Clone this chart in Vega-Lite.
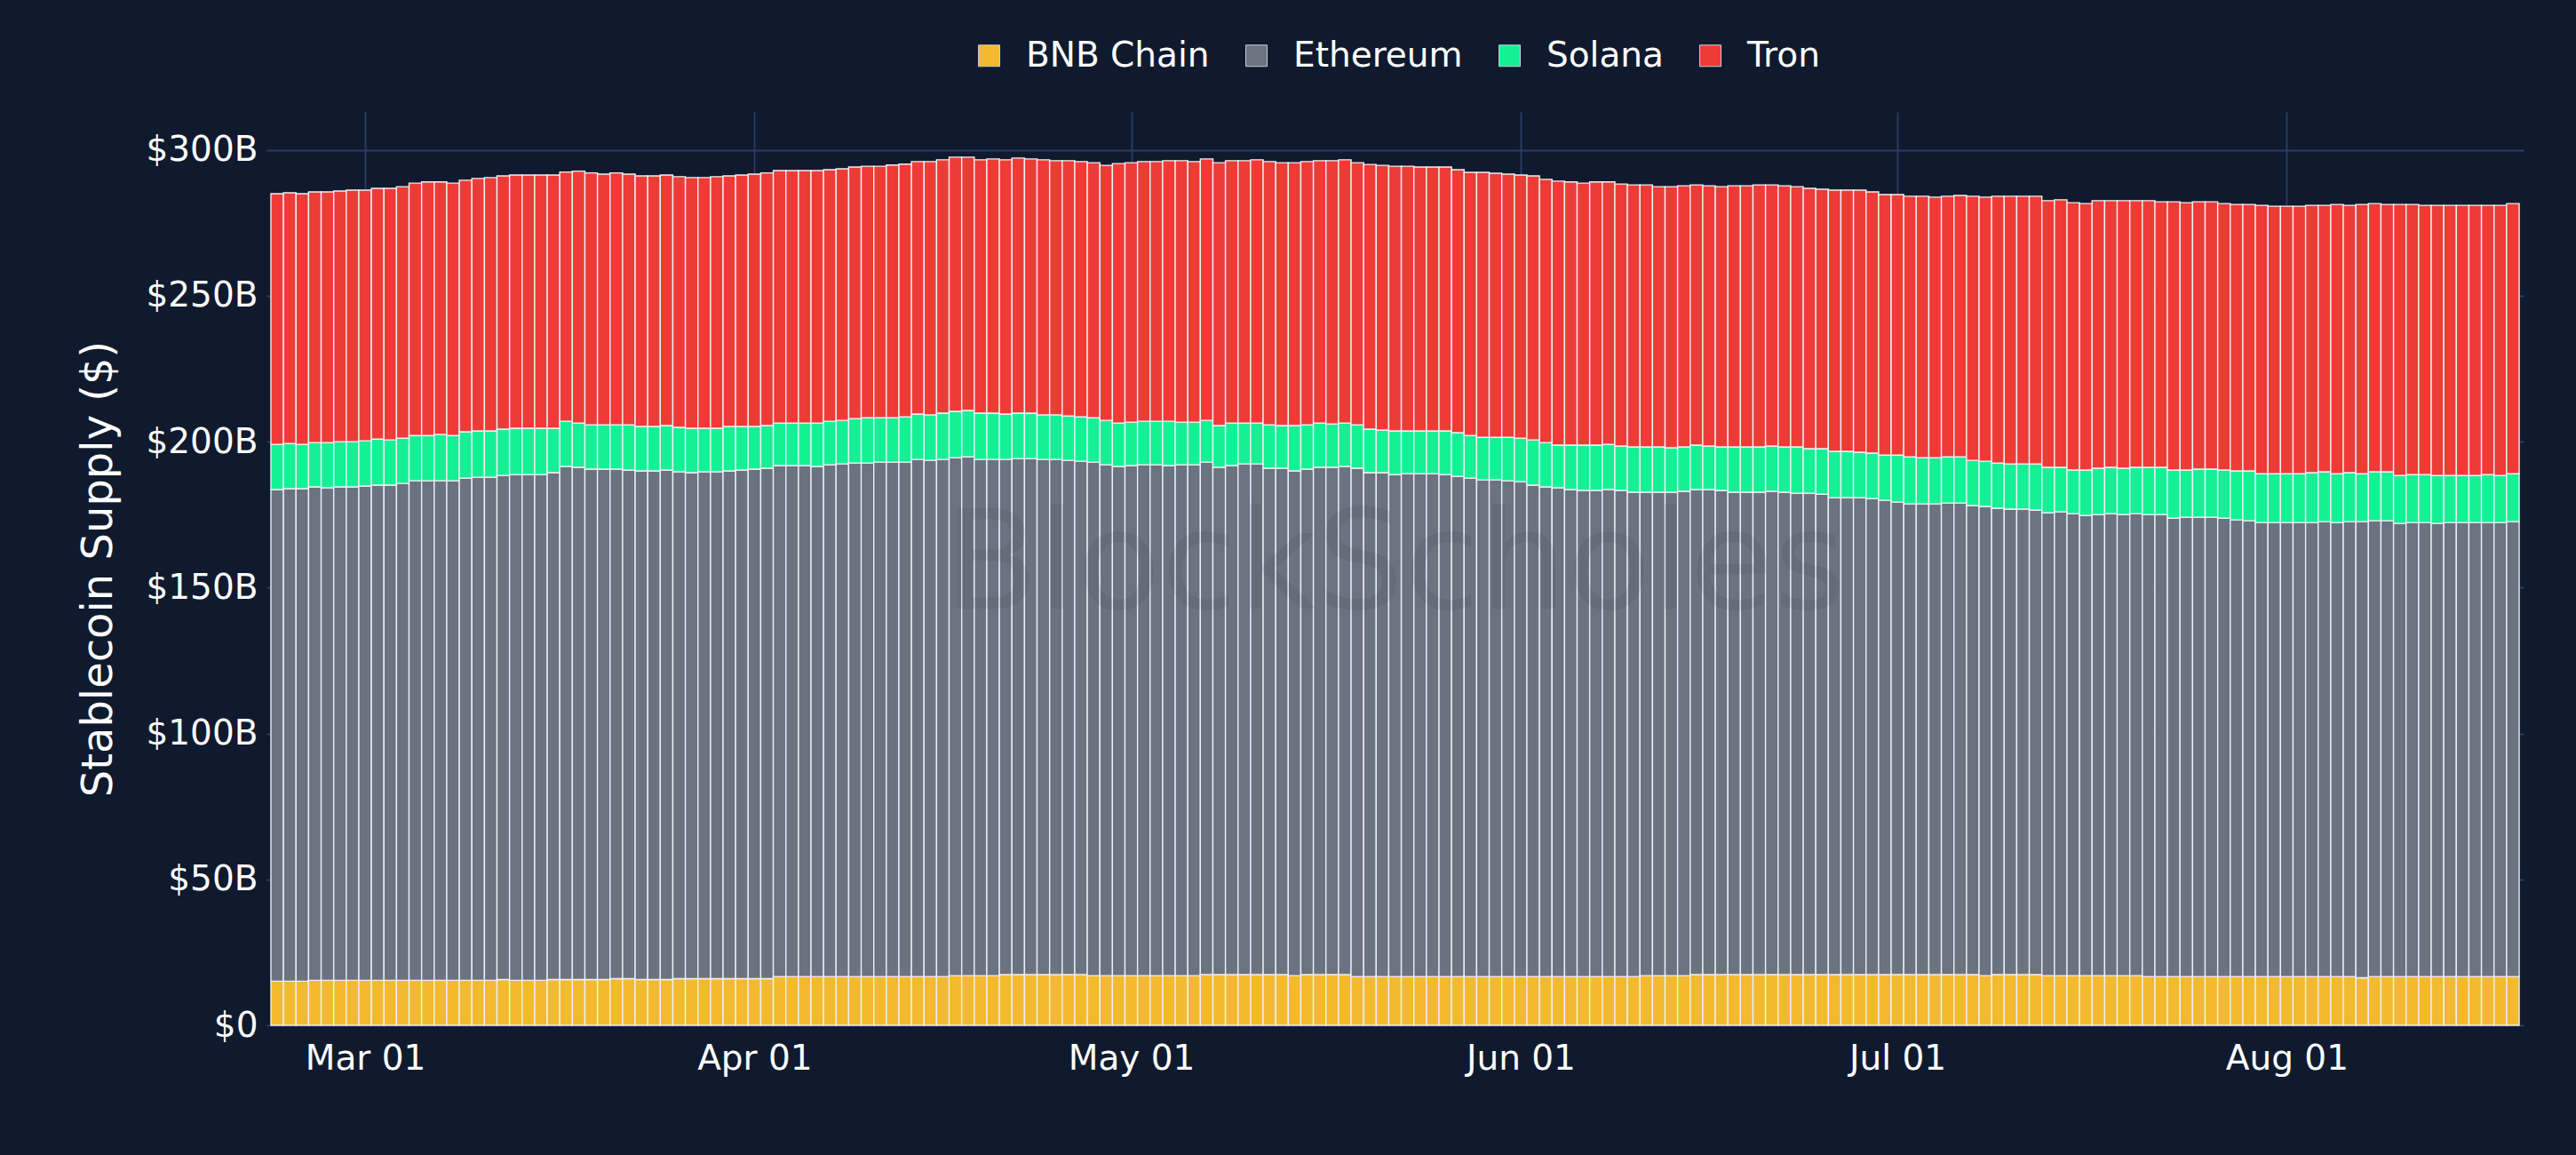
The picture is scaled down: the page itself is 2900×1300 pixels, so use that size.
{
  "$schema": "https://vega.github.io/schema/vega-lite/v6.json",
  "width": 2541,
  "height": 1028,
  "autosize": {"type": "none"},
  "padding": {"left": 300, "top": 126, "right": 59, "bottom": 146},
  "background": "#0f1a2e",
  "config": {"view": {"stroke": null}, "font": "DejaVu Sans"},
  "layer": [
    {
      "data": {"values": [
{"date":"2025-02-22","BNB Chain":15.1,"Ethereum":168.5,"Solana":15.5,"Tron":85.9},
{"date":"2025-02-23","BNB Chain":15.1,"Ethereum":168.8,"Solana":15.5,"Tron":85.9},
{"date":"2025-02-24","BNB Chain":15.1,"Ethereum":168.8,"Solana":15.2,"Tron":85.9},
{"date":"2025-02-25","BNB Chain":15.4,"Ethereum":169.1,"Solana":15.2,"Tron":85.9},
{"date":"2025-02-26","BNB Chain":15.4,"Ethereum":168.8,"Solana":15.5,"Tron":85.9},
{"date":"2025-02-27","BNB Chain":15.4,"Ethereum":169.1,"Solana":15.5,"Tron":85.9},
{"date":"2025-02-28","BNB Chain":15.4,"Ethereum":169.1,"Solana":15.5,"Tron":86.2},
{"date":"2025-03-01","BNB Chain":15.4,"Ethereum":169.4,"Solana":15.5,"Tron":85.9},
{"date":"2025-03-02","BNB Chain":15.4,"Ethereum":169.7,"Solana":15.8,"Tron":85.9},
{"date":"2025-03-03","BNB Chain":15.4,"Ethereum":169.7,"Solana":15.5,"Tron":86.2},
{"date":"2025-03-04","BNB Chain":15.4,"Ethereum":170.3,"Solana":15.5,"Tron":86.2},
{"date":"2025-03-05","BNB Chain":15.4,"Ethereum":171.2,"Solana":15.5,"Tron":86.5},
{"date":"2025-03-06","BNB Chain":15.4,"Ethereum":171.2,"Solana":15.5,"Tron":86.9},
{"date":"2025-03-07","BNB Chain":15.4,"Ethereum":171.2,"Solana":15.9,"Tron":86.5},
{"date":"2025-03-08","BNB Chain":15.4,"Ethereum":171.2,"Solana":15.5,"Tron":86.5},
{"date":"2025-03-09","BNB Chain":15.4,"Ethereum":172.1,"Solana":15.9,"Tron":86.2},
{"date":"2025-03-10","BNB Chain":15.4,"Ethereum":172.4,"Solana":15.9,"Tron":86.5},
{"date":"2025-03-11","BNB Chain":15.4,"Ethereum":172.4,"Solana":15.9,"Tron":86.8},
{"date":"2025-03-12","BNB Chain":15.7,"Ethereum":172.7,"Solana":15.9,"Tron":86.8},
{"date":"2025-03-13","BNB Chain":15.4,"Ethereum":173.3,"Solana":15.9,"Tron":86.8},
{"date":"2025-03-14","BNB Chain":15.4,"Ethereum":173.3,"Solana":15.9,"Tron":86.8},
{"date":"2025-03-15","BNB Chain":15.4,"Ethereum":173.3,"Solana":15.9,"Tron":86.8},
{"date":"2025-03-16","BNB Chain":15.7,"Ethereum":173.7,"Solana":15.2,"Tron":86.8},
{"date":"2025-03-17","BNB Chain":15.7,"Ethereum":175.8,"Solana":15.5,"Tron":85.4},
{"date":"2025-03-18","BNB Chain":15.7,"Ethereum":175.5,"Solana":15.2,"Tron":86.3},
{"date":"2025-03-19","BNB Chain":15.7,"Ethereum":174.9,"Solana":15.2,"Tron":86.3},
{"date":"2025-03-20","BNB Chain":15.7,"Ethereum":174.9,"Solana":15.2,"Tron":85.9},
{"date":"2025-03-21","BNB Chain":16.0,"Ethereum":174.6,"Solana":15.2,"Tron":86.3},
{"date":"2025-03-22","BNB Chain":16.0,"Ethereum":174.3,"Solana":15.5,"Tron":85.9},
{"date":"2025-03-23","BNB Chain":15.7,"Ethereum":174.3,"Solana":15.2,"Tron":85.9},
{"date":"2025-03-24","BNB Chain":15.7,"Ethereum":174.3,"Solana":15.2,"Tron":85.9},
{"date":"2025-03-25","BNB Chain":15.7,"Ethereum":174.6,"Solana":15.2,"Tron":85.9},
{"date":"2025-03-26","BNB Chain":16.0,"Ethereum":173.7,"Solana":15.2,"Tron":85.9},
{"date":"2025-03-27","BNB Chain":16.0,"Ethereum":173.4,"Solana":15.2,"Tron":85.9},
{"date":"2025-03-28","BNB Chain":16.0,"Ethereum":173.7,"Solana":14.9,"Tron":85.9},
{"date":"2025-03-29","BNB Chain":16.0,"Ethereum":173.7,"Solana":14.9,"Tron":86.2},
{"date":"2025-03-30","BNB Chain":16.0,"Ethereum":174.0,"Solana":15.2,"Tron":85.9},
{"date":"2025-03-31","BNB Chain":16.0,"Ethereum":174.3,"Solana":14.9,"Tron":86.2},
{"date":"2025-04-01","BNB Chain":16.0,"Ethereum":174.6,"Solana":14.6,"Tron":86.5},
{"date":"2025-04-02","BNB Chain":16.0,"Ethereum":174.9,"Solana":14.6,"Tron":86.6},
{"date":"2025-04-03","BNB Chain":16.7,"Ethereum":175.1,"Solana":14.6,"Tron":86.5},
{"date":"2025-04-04","BNB Chain":16.7,"Ethereum":175.1,"Solana":14.6,"Tron":86.5},
{"date":"2025-04-05","BNB Chain":16.7,"Ethereum":175.1,"Solana":14.6,"Tron":86.5},
{"date":"2025-04-06","BNB Chain":16.7,"Ethereum":174.8,"Solana":14.9,"Tron":86.5},
{"date":"2025-04-07","BNB Chain":16.7,"Ethereum":175.4,"Solana":14.9,"Tron":86.2},
{"date":"2025-04-08","BNB Chain":16.7,"Ethereum":175.7,"Solana":14.9,"Tron":86.2},
{"date":"2025-04-09","BNB Chain":16.7,"Ethereum":176.0,"Solana":15.2,"Tron":86.2},
{"date":"2025-04-10","BNB Chain":16.7,"Ethereum":176.0,"Solana":15.5,"Tron":86.2},
{"date":"2025-04-11","BNB Chain":16.7,"Ethereum":176.3,"Solana":15.2,"Tron":86.2},
{"date":"2025-04-12","BNB Chain":16.7,"Ethereum":176.3,"Solana":15.2,"Tron":86.6},
{"date":"2025-04-13","BNB Chain":16.7,"Ethereum":176.3,"Solana":15.5,"Tron":86.6},
{"date":"2025-04-14","BNB Chain":16.7,"Ethereum":177.2,"Solana":15.6,"Tron":86.5},
{"date":"2025-04-15","BNB Chain":16.7,"Ethereum":176.9,"Solana":15.6,"Tron":86.8},
{"date":"2025-04-16","BNB Chain":16.7,"Ethereum":177.2,"Solana":15.9,"Tron":86.8},
{"date":"2025-04-17","BNB Chain":17.0,"Ethereum":177.5,"Solana":15.9,"Tron":87.1},
{"date":"2025-04-18","BNB Chain":17.0,"Ethereum":177.8,"Solana":15.9,"Tron":86.8},
{"date":"2025-04-19","BNB Chain":17.0,"Ethereum":176.9,"Solana":15.9,"Tron":86.8},
{"date":"2025-04-20","BNB Chain":17.0,"Ethereum":176.9,"Solana":15.9,"Tron":87.1},
{"date":"2025-04-21","BNB Chain":17.4,"Ethereum":176.5,"Solana":15.6,"Tron":87.1},
{"date":"2025-04-22","BNB Chain":17.4,"Ethereum":176.8,"Solana":15.6,"Tron":87.4},
{"date":"2025-04-23","BNB Chain":17.4,"Ethereum":176.8,"Solana":15.6,"Tron":87.1},
{"date":"2025-04-24","BNB Chain":17.4,"Ethereum":176.5,"Solana":15.3,"Tron":87.4},
{"date":"2025-04-25","BNB Chain":17.4,"Ethereum":176.5,"Solana":15.3,"Tron":87.1},
{"date":"2025-04-26","BNB Chain":17.4,"Ethereum":176.2,"Solana":15.2,"Tron":87.5},
{"date":"2025-04-27","BNB Chain":17.4,"Ethereum":175.9,"Solana":15.2,"Tron":87.5},
{"date":"2025-04-28","BNB Chain":17.0,"Ethereum":176.0,"Solana":15.2,"Tron":87.4},
{"date":"2025-04-29","BNB Chain":17.0,"Ethereum":175.1,"Solana":15.2,"Tron":87.4},
{"date":"2025-04-30","BNB Chain":17.0,"Ethereum":174.5,"Solana":14.9,"Tron":88.9},
{"date":"2025-05-01","BNB Chain":17.0,"Ethereum":174.8,"Solana":14.9,"Tron":88.9},
{"date":"2025-05-02","BNB Chain":17.0,"Ethereum":175.1,"Solana":14.9,"Tron":89.0},
{"date":"2025-05-03","BNB Chain":17.0,"Ethereum":175.1,"Solana":14.9,"Tron":89.0},
{"date":"2025-05-04","BNB Chain":17.0,"Ethereum":174.8,"Solana":15.2,"Tron":89.3},
{"date":"2025-05-05","BNB Chain":17.0,"Ethereum":175.1,"Solana":14.6,"Tron":89.6},
{"date":"2025-05-06","BNB Chain":17.0,"Ethereum":175.1,"Solana":14.6,"Tron":89.3},
{"date":"2025-05-07","BNB Chain":17.4,"Ethereum":175.6,"Solana":14.3,"Tron":89.6},
{"date":"2025-05-08","BNB Chain":17.4,"Ethereum":173.8,"Solana":14.3,"Tron":90.1},
{"date":"2025-05-09","BNB Chain":17.4,"Ethereum":174.4,"Solana":14.6,"Tron":89.9},
{"date":"2025-05-10","BNB Chain":17.4,"Ethereum":175.0,"Solana":14.0,"Tron":89.9},
{"date":"2025-05-11","BNB Chain":17.4,"Ethereum":175.0,"Solana":14.0,"Tron":90.2},
{"date":"2025-05-12","BNB Chain":17.4,"Ethereum":173.5,"Solana":14.9,"Tron":90.2},
{"date":"2025-05-13","BNB Chain":17.4,"Ethereum":173.5,"Solana":14.6,"Tron":90.1},
{"date":"2025-05-14","BNB Chain":17.0,"Ethereum":173.0,"Solana":15.5,"Tron":90.1},
{"date":"2025-05-15","BNB Chain":17.4,"Ethereum":173.2,"Solana":15.2,"Tron":90.2},
{"date":"2025-05-16","BNB Chain":17.4,"Ethereum":173.8,"Solana":15.2,"Tron":89.9},
{"date":"2025-05-17","BNB Chain":17.4,"Ethereum":173.8,"Solana":14.9,"Tron":90.2},
{"date":"2025-05-18","BNB Chain":17.4,"Ethereum":174.1,"Solana":14.9,"Tron":90.2},
{"date":"2025-05-19","BNB Chain":16.7,"Ethereum":174.2,"Solana":14.9,"Tron":89.8},
{"date":"2025-05-20","BNB Chain":16.7,"Ethereum":172.7,"Solana":14.9,"Tron":90.7},
{"date":"2025-05-21","BNB Chain":16.7,"Ethereum":172.7,"Solana":14.6,"Tron":90.7},
{"date":"2025-05-22","BNB Chain":16.7,"Ethereum":172.0,"Solana":15.0,"Tron":90.7},
{"date":"2025-05-23","BNB Chain":16.7,"Ethereum":172.3,"Solana":14.7,"Tron":90.7},
{"date":"2025-05-24","BNB Chain":16.7,"Ethereum":172.3,"Solana":14.7,"Tron":90.4},
{"date":"2025-05-25","BNB Chain":16.7,"Ethereum":172.3,"Solana":14.7,"Tron":90.4},
{"date":"2025-05-26","BNB Chain":16.7,"Ethereum":172.0,"Solana":15.0,"Tron":90.4},
{"date":"2025-05-27","BNB Chain":16.7,"Ethereum":171.4,"Solana":15.0,"Tron":90.1},
{"date":"2025-05-28","BNB Chain":16.7,"Ethereum":170.8,"Solana":14.6,"Tron":90.2},
{"date":"2025-05-29","BNB Chain":16.7,"Ethereum":170.2,"Solana":14.6,"Tron":90.8},
{"date":"2025-05-30","BNB Chain":16.7,"Ethereum":170.2,"Solana":14.6,"Tron":90.5},
{"date":"2025-05-31","BNB Chain":16.7,"Ethereum":169.9,"Solana":14.9,"Tron":90.2},
{"date":"2025-06-01","BNB Chain":16.7,"Ethereum":169.6,"Solana":14.9,"Tron":90.2},
{"date":"2025-06-02","BNB Chain":16.7,"Ethereum":168.4,"Solana":15.5,"Tron":90.5},
{"date":"2025-06-03","BNB Chain":16.7,"Ethereum":167.8,"Solana":15.2,"Tron":90.2},
{"date":"2025-06-04","BNB Chain":16.7,"Ethereum":167.5,"Solana":14.6,"Tron":90.5},
{"date":"2025-06-05","BNB Chain":16.7,"Ethereum":166.9,"Solana":15.2,"Tron":90.2},
{"date":"2025-06-06","BNB Chain":16.7,"Ethereum":166.6,"Solana":15.5,"Tron":89.8},
{"date":"2025-06-07","BNB Chain":16.7,"Ethereum":166.6,"Solana":15.5,"Tron":90.2},
{"date":"2025-06-08","BNB Chain":16.7,"Ethereum":166.9,"Solana":15.5,"Tron":89.9},
{"date":"2025-06-09","BNB Chain":16.7,"Ethereum":166.6,"Solana":15.2,"Tron":89.8},
{"date":"2025-06-10","BNB Chain":16.7,"Ethereum":166.0,"Solana":15.5,"Tron":89.8},
{"date":"2025-06-11","BNB Chain":17.0,"Ethereum":165.7,"Solana":15.5,"Tron":89.8},
{"date":"2025-06-12","BNB Chain":17.0,"Ethereum":165.7,"Solana":15.5,"Tron":89.2},
{"date":"2025-06-13","BNB Chain":17.0,"Ethereum":165.7,"Solana":15.2,"Tron":89.5},
{"date":"2025-06-14","BNB Chain":17.0,"Ethereum":166.0,"Solana":15.2,"Tron":89.5},
{"date":"2025-06-15","BNB Chain":17.4,"Ethereum":166.2,"Solana":15.2,"Tron":89.2},
{"date":"2025-06-16","BNB Chain":17.4,"Ethereum":166.2,"Solana":14.9,"Tron":89.2},
{"date":"2025-06-17","BNB Chain":17.4,"Ethereum":165.9,"Solana":14.9,"Tron":89.2},
{"date":"2025-06-18","BNB Chain":17.4,"Ethereum":165.3,"Solana":15.5,"Tron":89.5},
{"date":"2025-06-19","BNB Chain":17.4,"Ethereum":165.3,"Solana":15.5,"Tron":89.5},
{"date":"2025-06-20","BNB Chain":17.4,"Ethereum":165.3,"Solana":15.5,"Tron":89.8},
{"date":"2025-06-21","BNB Chain":17.4,"Ethereum":165.6,"Solana":15.5,"Tron":89.5},
{"date":"2025-06-22","BNB Chain":17.4,"Ethereum":165.3,"Solana":15.5,"Tron":89.5},
{"date":"2025-06-23","BNB Chain":17.4,"Ethereum":164.9,"Solana":15.9,"Tron":89.2},
{"date":"2025-06-24","BNB Chain":17.4,"Ethereum":164.9,"Solana":15.3,"Tron":89.2},
{"date":"2025-06-25","BNB Chain":17.4,"Ethereum":164.6,"Solana":15.6,"Tron":88.9},
{"date":"2025-06-26","BNB Chain":17.4,"Ethereum":163.4,"Solana":15.9,"Tron":89.5},
{"date":"2025-06-27","BNB Chain":17.4,"Ethereum":163.4,"Solana":15.9,"Tron":89.5},
{"date":"2025-06-28","BNB Chain":17.4,"Ethereum":163.4,"Solana":15.6,"Tron":89.8},
{"date":"2025-06-29","BNB Chain":17.4,"Ethereum":163.1,"Solana":15.6,"Tron":89.5},
{"date":"2025-06-30","BNB Chain":17.4,"Ethereum":162.5,"Solana":15.5,"Tron":89.3},
{"date":"2025-07-01","BNB Chain":17.4,"Ethereum":161.9,"Solana":16.1,"Tron":89.3},
{"date":"2025-07-02","BNB Chain":17.4,"Ethereum":161.3,"Solana":16.1,"Tron":89.3},
{"date":"2025-07-03","BNB Chain":17.4,"Ethereum":161.3,"Solana":15.8,"Tron":89.6},
{"date":"2025-07-04","BNB Chain":17.4,"Ethereum":161.3,"Solana":15.8,"Tron":89.3},
{"date":"2025-07-05","BNB Chain":17.4,"Ethereum":161.6,"Solana":15.8,"Tron":89.3},
{"date":"2025-07-06","BNB Chain":17.4,"Ethereum":161.6,"Solana":15.8,"Tron":89.6},
{"date":"2025-07-07","BNB Chain":17.4,"Ethereum":160.7,"Solana":15.5,"Tron":90.5},
{"date":"2025-07-08","BNB Chain":17.0,"Ethereum":160.8,"Solana":15.5,"Tron":90.5},
{"date":"2025-07-09","BNB Chain":17.4,"Ethereum":159.8,"Solana":15.5,"Tron":91.4},
{"date":"2025-07-10","BNB Chain":17.4,"Ethereum":159.5,"Solana":15.5,"Tron":91.7},
{"date":"2025-07-11","BNB Chain":17.4,"Ethereum":159.5,"Solana":15.5,"Tron":91.7},
{"date":"2025-07-12","BNB Chain":17.4,"Ethereum":159.2,"Solana":15.8,"Tron":91.7},
{"date":"2025-07-13","BNB Chain":17.0,"Ethereum":158.6,"Solana":15.6,"Tron":91.4},
{"date":"2025-07-14","BNB Chain":17.0,"Ethereum":159.0,"Solana":15.2,"Tron":91.7},
{"date":"2025-07-15","BNB Chain":17.0,"Ethereum":158.3,"Solana":15.0,"Tron":91.6},
{"date":"2025-07-16","BNB Chain":17.0,"Ethereum":157.7,"Solana":15.6,"Tron":91.3},
{"date":"2025-07-17","BNB Chain":17.0,"Ethereum":158.0,"Solana":15.9,"Tron":91.7},
{"date":"2025-07-18","BNB Chain":17.0,"Ethereum":158.3,"Solana":15.9,"Tron":91.4},
{"date":"2025-07-19","BNB Chain":17.0,"Ethereum":158.0,"Solana":15.9,"Tron":91.7},
{"date":"2025-07-20","BNB Chain":17.0,"Ethereum":158.3,"Solana":15.9,"Tron":91.4},
{"date":"2025-07-21","BNB Chain":16.7,"Ethereum":158.3,"Solana":16.2,"Tron":91.4},
{"date":"2025-07-22","BNB Chain":16.7,"Ethereum":158.3,"Solana":16.2,"Tron":91.0},
{"date":"2025-07-23","BNB Chain":16.7,"Ethereum":157.1,"Solana":16.5,"Tron":91.9},
{"date":"2025-07-24","BNB Chain":16.7,"Ethereum":157.4,"Solana":16.2,"Tron":91.6},
{"date":"2025-07-25","BNB Chain":16.7,"Ethereum":157.4,"Solana":16.5,"Tron":91.6},
{"date":"2025-07-26","BNB Chain":16.7,"Ethereum":157.4,"Solana":16.5,"Tron":91.6},
{"date":"2025-07-27","BNB Chain":16.7,"Ethereum":157.1,"Solana":16.5,"Tron":91.3},
{"date":"2025-07-28","BNB Chain":16.7,"Ethereum":156.5,"Solana":16.8,"Tron":91.3},
{"date":"2025-07-29","BNB Chain":16.7,"Ethereum":156.2,"Solana":17.1,"Tron":91.3},
{"date":"2025-07-30","BNB Chain":16.7,"Ethereum":155.6,"Solana":16.7,"Tron":92.0},
{"date":"2025-07-31","BNB Chain":16.7,"Ethereum":155.6,"Solana":16.7,"Tron":91.7},
{"date":"2025-08-01","BNB Chain":16.7,"Ethereum":155.6,"Solana":16.7,"Tron":91.7},
{"date":"2025-08-02","BNB Chain":16.7,"Ethereum":155.6,"Solana":16.7,"Tron":91.7},
{"date":"2025-08-03","BNB Chain":16.7,"Ethereum":155.6,"Solana":17.1,"Tron":91.6},
{"date":"2025-08-04","BNB Chain":16.7,"Ethereum":155.9,"Solana":17.1,"Tron":91.3},
{"date":"2025-08-05","BNB Chain":16.7,"Ethereum":155.6,"Solana":16.7,"Tron":92.3},
{"date":"2025-08-06","BNB Chain":16.7,"Ethereum":155.9,"Solana":16.8,"Tron":91.6},
{"date":"2025-08-07","BNB Chain":16.3,"Ethereum":156.3,"Solana":16.4,"Tron":92.3},
{"date":"2025-08-08","BNB Chain":16.7,"Ethereum":156.2,"Solana":16.8,"Tron":91.9},
{"date":"2025-08-09","BNB Chain":16.7,"Ethereum":156.2,"Solana":16.8,"Tron":91.6},
{"date":"2025-08-10","BNB Chain":16.7,"Ethereum":155.3,"Solana":16.4,"Tron":92.9},
{"date":"2025-08-11","BNB Chain":16.7,"Ethereum":155.6,"Solana":16.4,"Tron":92.6},
{"date":"2025-08-12","BNB Chain":16.7,"Ethereum":155.6,"Solana":16.4,"Tron":92.3},
{"date":"2025-08-13","BNB Chain":16.7,"Ethereum":155.3,"Solana":16.4,"Tron":92.6},
{"date":"2025-08-14","BNB Chain":16.7,"Ethereum":155.6,"Solana":16.1,"Tron":92.6},
{"date":"2025-08-15","BNB Chain":16.7,"Ethereum":155.6,"Solana":16.1,"Tron":92.6},
{"date":"2025-08-16","BNB Chain":16.7,"Ethereum":155.6,"Solana":16.1,"Tron":92.6},
{"date":"2025-08-17","BNB Chain":16.7,"Ethereum":155.6,"Solana":16.4,"Tron":92.3},
{"date":"2025-08-18","BNB Chain":16.7,"Ethereum":155.6,"Solana":16.1,"Tron":92.6},
{"date":"2025-08-19","BNB Chain":16.7,"Ethereum":155.9,"Solana":16.4,"Tron":92.6}
      ]},
      "transform": [{"fold": ["BNB Chain", "Ethereum", "Solana", "Tron"], "as": ["chain", "supply"]}],
      "mark": {"type": "bar", "width": 14.2, "stroke": "#eef0f6", "strokeWidth": 1.4},
      "encoding": {
        "x": {
          "field": "date", "type": "temporal", "title": null,
          "scale": {"type": "utc", "nice": false, "domain": [
            {"year": 2025, "month": 2, "date": 21, "hours": 12, "utc": true},
            {"year": 2025, "month": 8, "date": 19, "hours": 12, "utc": true}]},
          "axis": {
            "title": null, "format": "%b %d", "tickCount": {"interval": "month", "step": 1},
            "labelFont": "DejaVu Sans", "labelFontSize": 39, "labelColor": "#ffffff", "labelPadding": 18,
            "labelFlush": false, "ticks": false, "domain": false,
            "grid": true, "gridColor": "#2b3d63", "gridWidth": 1.8
          }
        },
        "y": {
          "field": "supply", "type": "quantitative", "stack": "zero", "title": "Stablecoin Supply ($)",
          "scale": {"domain": [0, 313], "nice": false},
          "axis": {
            "title": "Stablecoin Supply ($)", "values": [0, 50, 100, 150, 200, 250, 300],
            "labelExpr": "datum.value == 0 ? '$0' : '$' + datum.value + 'B'",
            "labelFont": "DejaVu Sans", "labelFontSize": 39, "labelColor": "#ffffff", "labelPadding": 10,
            "ticks": false, "domain": false, "grid": true, "gridColor": "#2b3d63", "gridWidth": 1.8,
            "titleFont": "DejaVu Sans", "titleFontSize": 48, "titleFontWeight": "normal", "titleColor": "#ffffff", "titlePadding": 28
          }
        },
        "color": {
          "field": "chain", "type": "nominal",
          "scale": {"domain": ["BNB Chain", "Ethereum", "Solana", "Tron"], "range": ["#f3ba2f", "#6b7280", "#14f195", "#ef3b36"]},
          "legend": {
            "title": null, "orient": "none", "legendX": 794, "legendY": -83, "direction": "horizontal",
            "padding": 0, "labelFont": "DejaVu Sans", "labelFontSize": 39, "labelColor": "#ffffff", "labelLimit": 500,
            "symbolType": "square", "symbolSize": 576, "symbolStrokeColor": "#c9ccd4", "symbolStrokeWidth": 1,
            "symbolOpacity": 1, "labelOffset": 22, "columnPadding": 33
          }
        },
        "order": {"field": "chain", "sort": "ascending"}
      }
    },
    {
      "data": {"values": [{"date": "2025-05-22", "supply": 157, "label": "BlockScholes"}]},
      "mark": {"type": "text", "font": "DejaVu Sans", "fontSize": 155, "fill": "#0f172a", "opacity": 0.07, "align": "center", "baseline": "middle"},
      "encoding": {
        "x": {"field": "date", "type": "temporal", "title": null},
        "y": {"field": "supply", "type": "quantitative", "title": "Stablecoin Supply ($)"},
        "text": {"field": "label"}
      }
    }
  ]
}
